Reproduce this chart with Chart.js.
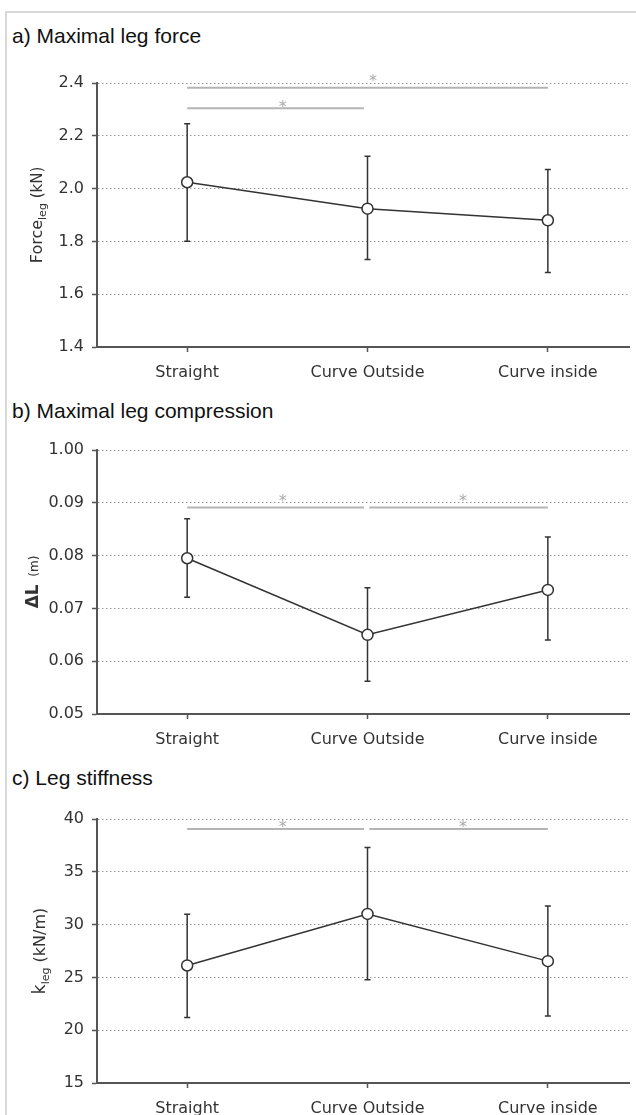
<!DOCTYPE html>
<html>
<head>
<meta charset="utf-8">
<script src="https://cdn.jsdelivr.net/npm/chart.js@4.4.1/dist/chart.umd.min.js"></script>
<style>
    html, body { margin: 0; padding: 0; background: #fff; }
    #page { position: relative; width: 636px; height: 1115px; overflow: hidden; }
    #frame {
        position: absolute; left: 5px; top: 11px; width: 700px; height: 1200px;
        border-top: 2px solid #d8d8d8; border-left: 2px solid #d8d8d8;
    }
    .panel-title {
        position: absolute; left: 12px; font-family: "Liberation Sans", Arial, sans-serif;
        font-size: 21px; line-height: 21px; color: #111; white-space: nowrap;
    }
    canvas { position: absolute; left: 0; }
</style>
</head>
<body>
<div id="page">
    <div id="frame"></div>
    <div class="panel-title" style="top:25px">a) Maximal leg force</div>
    <div class="panel-title" style="top:400px">b) Maximal leg compression</div>
    <div class="panel-title" style="top:767px">c) Leg stiffness</div>
    <canvas id="chart_force" width="636" height="345" style="top:50px"></canvas>
    <canvas id="chart_compression" width="636" height="345" style="top:417px"></canvas>
    <canvas id="chart_stiffness" width="636" height="329" style="top:786px"></canvas>
</div>
<script>
const categories = ['Straight', 'Curve Outside', 'Curve inside'];
const categoryPos = [0, 1, 2];

// a) Maximal leg force (kN)
const forceMean = [2.024, 1.924, 1.880];
const forceLow = [1.801, 1.731, 1.682];
const forceHigh = [2.246, 2.123, 2.072];
const forceTicks = [1.4, 1.6, 1.8, 2.0, 2.2, 2.4];
const forceTickLabels = ['1.4', '1.6', '1.8', '2.0', '2.2', '2.4'];
const forceSigBars = [[0, 2, 2.382], [0, 0.98, 2.304]]; // [from, to, level]
const forceStars = [[1.03, 2.424], [0.53, 2.326]];

// b) Maximal leg compression (m)
const compMean = [0.0795, 0.0650, 0.0735];
const compLow = [0.0721, 0.0562, 0.0640];
const compHigh = [0.0870, 0.0739, 0.0835];
const compTicks = [0.05, 0.06, 0.07, 0.08, 0.09, 0.10];
const compTickLabels = ['0.05', '0.06', '0.07', '0.08', '0.09', '1.00'];
const compSigBars = [[0, 0.98, 0.0891], [1.01, 2, 0.0891]];
const compStars = [[0.53, 0.0911], [1.53, 0.0911]];

// c) Leg stiffness (kN/m)
const stiffMean = [26.13, 31.01, 26.54];
const stiffLow = [21.21, 24.77, 21.34];
const stiffHigh = [30.98, 37.29, 31.77];
const stiffTicks = [15, 20, 25, 30, 35, 40];
const stiffTickLabels = ['15', '20', '25', '30', '35', '40'];
const stiffSigBars = [[0, 0.98, 39.05], [1.01, 2, 39.05]];
const stiffStars = [[0.53, 39.65], [1.53, 39.65]];

const tickFont = { family: 'DejaVu Sans', size: 16 };
const axisColor = '#555';

// error bars (low/high) drawn behind the line
const errorBarPlugin = {
    id: 'errorBars',
    beforeDatasetsDraw(chart, args, options) {
        const { ctx, scales: { x, y } } = chart;
        ctx.save();
        ctx.strokeStyle = '#333';
        ctx.lineWidth = 1.5;
        options.low.forEach((lo, i) => {
            const px = x.getPixelForValue(categoryPos[i]);
            const yLo = y.getPixelForValue(lo);
            const yHi = y.getPixelForValue(options.high[i]);
            ctx.beginPath();
            ctx.moveTo(px, yLo);
            ctx.lineTo(px, yHi);
            ctx.moveTo(px - 3, yLo);
            ctx.lineTo(px + 3, yLo);
            ctx.moveTo(px - 3, yHi);
            ctx.lineTo(px + 3, yHi);
            ctx.stroke();
        });
        ctx.restore();
    }
};

const starPlugin = {
    id: 'stars',
    afterDatasetsDraw(chart, args, options) {
        const { ctx, scales: { x, y } } = chart;
        ctx.save();
        ctx.fillStyle = '#aaa';
        ctx.font = '16px "DejaVu Sans"';
        ctx.textAlign = 'center';
        ctx.textBaseline = 'alphabetic';
        options.points.forEach(p => {
            ctx.fillText('*', x.getPixelForValue(p[0]), y.getPixelForValue(p[1]) + 9);
        });
        ctx.restore();
    }
};

// rotated y title with subscript parts
const yTitlePlugin = {
    id: 'yTitle',
    afterDraw(chart, args, options) {
        const { ctx, chartArea } = chart;
        const cy = (chartArea.top + chartArea.bottom) / 2;
        ctx.save();
        ctx.translate(options.x, cy);
        ctx.rotate(-Math.PI / 2);
        ctx.fillStyle = '#333';
        ctx.textBaseline = 'alphabetic';
        let total = 0;
        options.parts.forEach(p => {
            ctx.font = (p.bold ? 'bold ' : '') + p.size + 'px "DejaVu Sans"';
            p.w = ctx.measureText(p.text).width;
            total += p.w;
        });
        let pos = -total / 2;
        options.parts.forEach(p => {
            ctx.font = (p.bold ? 'bold ' : '') + p.size + 'px "DejaVu Sans"';
            ctx.fillText(p.text, pos, 5 + (p.dy || 0));
            pos += p.w;
        });
        ctx.restore();
    }
};

function buildPanel(canvasId, cfg) {
    const chartElement = document.getElementById(canvasId);
    if (!chartElement) {
        console.error('Element with id "' + canvasId + '" not found');
        return;
    }
    const ctx = chartElement.getContext('2d');

    const datasets = cfg.sigBars.map(b => ({
        data: [{ x: b[0], y: b[2] }, { x: b[1], y: b[2] }],
        borderColor: '#b4b4b4',
        borderWidth: 2,
        pointRadius: 0,
        order: 2
    }));
    datasets.push({
        data: cfg.mean.map((v, i) => ({ x: categoryPos[i], y: v })),
        borderColor: '#333',
        borderWidth: 1.5,
        pointRadius: 5.5,
        pointBackgroundColor: '#fff',
        pointBorderColor: '#333',
        pointBorderWidth: 1.5,
        order: 0
    });

    new Chart(ctx, {
        type: 'line',
        data: { datasets: datasets },
        plugins: [errorBarPlugin, starPlugin, yTitlePlugin],
        options: {
            responsive: false,
            animation: false,
            devicePixelRatio: 1,
            layout: { padding: { top: 33, left: 0, right: 0, bottom: 0 } },
            plugins: {
                legend: { display: false },
                tooltip: { enabled: false },
                errorBars: { low: cfg.low, high: cfg.high },
                stars: { points: cfg.stars },
                yTitle: { x: cfg.titleX, parts: cfg.titleParts }
            },
            scales: {
                x: {
                    type: 'linear',
                    min: -0.5,
                    max: 2.45,
                    afterBuildTicks: s => { s.ticks = categoryPos.map(v => ({ value: v })); },
                    afterFit: s => { s.height = cfg.xAxisHeight; },
                    ticks: {
                        callback: (v, i) => categories[i],
                        autoSkip: false,
                        maxRotation: 0,
                        font: tickFont,
                        color: '#333',
                        padding: 11
                    },
                    grid: { drawOnChartArea: false, tickLength: 5, tickColor: axisColor, tickWidth: 1.5 },
                    border: { color: axisColor, width: 2 }
                },
                y: {
                    min: cfg.ticks[0],
                    max: cfg.ticks[cfg.ticks.length - 1],
                    afterBuildTicks: s => { s.ticks = cfg.ticks.map(v => ({ value: v })); },
                    afterFit: s => { s.width = 97; },
                    ticks: {
                        callback: (v, i) => cfg.tickLabels[i],
                        font: tickFont,
                        color: '#333',
                        padding: 8
                    },
                    grid: {
                        color: c => c.index === 0 ? 'rgba(0,0,0,0)' : '#999',
                        lineWidth: 1,
                        tickLength: 5,
                        tickColor: axisColor,
                        tickWidth: 1.5
                    },
                    border: { color: axisColor, width: 2, dash: [1.5, 2.5] }
                }
            }
        }
    });
}

document.addEventListener('DOMContentLoaded', function () {
    buildPanel('chart_force', {
        mean: forceMean, low: forceLow, high: forceHigh,
        ticks: forceTicks, tickLabels: forceTickLabels,
        sigBars: forceSigBars, stars: forceStars,
        xAxisHeight: 48, titleX: 37,
        titleParts: [{ text: 'Force', size: 16 }, { text: 'leg', size: 11, dy: 4 }, { text: ' (kN)', size: 15 }]
    });
    buildPanel('chart_compression', {
        mean: compMean, low: compLow, high: compHigh,
        ticks: compTicks, tickLabels: compTickLabels,
        sigBars: compSigBars, stars: compStars,
        xAxisHeight: 48, titleX: 33,
        titleParts: [{ text: 'ΔL', size: 17, bold: true }, { text: '  (m)', size: 12 }]
    });
    buildPanel('chart_stiffness', {
        mean: stiffMean, low: stiffLow, high: stiffHigh,
        ticks: stiffTicks, tickLabels: stiffTickLabels,
        sigBars: stiffSigBars, stars: stiffStars,
        xAxisHeight: 32, titleX: 40,
        titleParts: [{ text: 'k', size: 17 }, { text: 'leg', size: 11, dy: 4 }, { text: ' (kN/m)', size: 16 }]
    });
});
</script>
</body>
</html>
